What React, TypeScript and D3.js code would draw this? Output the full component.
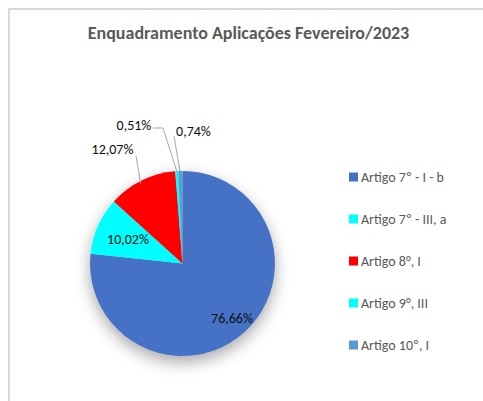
import React from "react";
import * as d3 from "d3";

const categories = ["Artigo 7º - I - b", "Artigo 7º - III, a", "Artigo 8°, I", "Artigo 9°, III", "Artigo 10º, I"];
const values = [76.66, 10.02, 12.07, 0.51, 0.74];
const labels = ["76,66%", "10,02%", "12,07%", "0,51%", "0,74%"];
const colors = ["#4472C4", "#00FFFF", "#FF0000", "#00FFFF", "#5B9BD5"];

const W = 483, H = 401;
const cx = 182.5, cy = 263.5, R = 92.5;

export default function App() {
  const pie = d3.pie<number>().sort(null).value((d) => d)(values);
  const arc = d3.arc<d3.PieArcDatum<number>>().innerRadius(0).outerRadius(R);
  const font = "Carlito, Calibri, 'Open Sans', sans-serif";

  const edge = (i: number) => {
    const a = (pie[i].startAngle + pie[i].endAngle) / 2;
    return [cx + Math.sin(a) * R, cy - Math.cos(a) * R];
  };
  const e2 = edge(2), e3 = edge(3), e4 = edge(4);

  return (
    <svg width={W} height={H} style={{ position: "absolute", left: 0, top: 0, background: "#fff" }}>
      <defs>
        <filter id="sh" x="-30%" y="-30%" width="160%" height="170%">
          <feGaussianBlur in="SourceAlpha" stdDeviation="8" />
          <feOffset dx="0" dy="6" result="b" />
          <feComponentTransfer><feFuncA type="linear" slope="0.35" /></feComponentTransfer>
          <feMerge><feMergeNode /><feMergeNode in="SourceGraphic" /></feMerge>
        </filter>
      </defs>
      <rect x={9} y={9} width={W + 20} height={H + 20} fill="#fff" stroke="#d9d9d9" strokeWidth={2} />
      <text x={248.5} y={38.5} textAnchor="middle" fontFamily={font} fontWeight="bold" fontSize={18} fill="#595959">
        Enquadramento Aplicações Fevereiro/2023
      </text>
      <g filter="url(#sh)">
        {pie.map((d, i) => (
          <path key={i} d={arc(d) || ""} transform={`translate(${cx},${cy})`} fill={colors[i]} />
        ))}
      </g>
      <g fill="none" stroke="#a6a6a6" strokeWidth={1}>
        <polyline points={`136,156 ${e2[0] - 1},${e2[1] + 3}`} />
        <polyline points={`153,128 163,128 ${e3[0]},${e3[1]}`} />
        <polyline points={`174,136 ${e4[0] - 0.5},${e4[1]}`} />
      </g>
      <g fontFamily={font} fontSize={14} fill="#0d0d0d">
        <text x={232} y={323} textAnchor="middle">{labels[0]}</text>
        <text x={128} y={244} textAnchor="middle">{labels[1]}</text>
        <text x={112.5} y={154} textAnchor="middle">{labels[2]}</text>
        <text x={134} y={129.5} textAnchor="middle">{labels[3]}</text>
        <text x={193.5} y={136} textAnchor="middle">{labels[4]}</text>
      </g>
      <g fontFamily={font} fontSize={14} fill="#595959">
        {categories.map((c, i) => {
          const y = 177 + i * 42;
          return (
            <g key={i}>
              <rect x={349} y={y - 4.5} width={9} height={9} fill={colors[i]} />
              <text x={361} y={y + 5}>{c}</text>
            </g>
          );
        })}
      </g>
    </svg>
  );
}
